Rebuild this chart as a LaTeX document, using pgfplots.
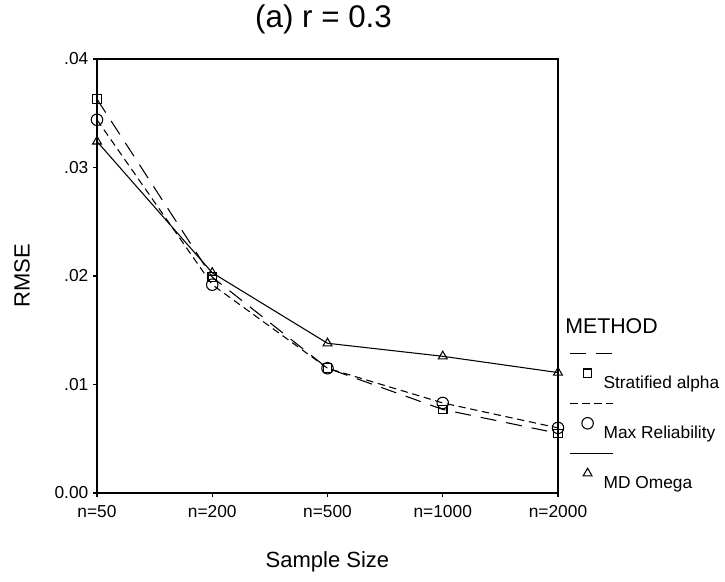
\documentclass[border=0pt]{standalone}
\usepackage{fontspec}
\setmainfont{Liberation Sans}
\usepackage{pgfplots}
\pgfplotsset{compat=1.18}
\begin{document}
\begin{tikzpicture}
\useasboundingbox (-72.75pt,-66.75pt) rectangle (471pt,369.75pt);
\begin{axis}[
  at={(0,0)}, anchor=south west,
  scale only axis, width=345.75pt, height=325.5pt,
  xmin=0, xmax=4, ymin=0, ymax=0.04, clip=false,
  scaled y ticks=false,
  xtick={0,...,4}, xticklabels={n=50,n=200,n=500,n=1000,n=2000},
  ytick={0,0.01,0.02,0.03,0.04}, yticklabels={0.00,.01,.02,.03,.04},
  tick align=outside, xtick pos=left, ytick pos=left, major tick length=3pt,
  axis line style={line width=1.2pt}, every tick/.style={black,line width=1pt},
  tick label style={font=\fontsize{13}{15}\selectfont},
  xticklabel style={yshift=-2.5pt},
  title={(a) r = 0.3},
  title style={font=\fontsize{23.5}{27}\selectfont, at={(axis description cs:0.5,1)}, anchor=center, yshift=24pt, xshift=-3pt},
  xlabel={Sample Size}, ylabel={RMSE},
  every axis x label/.style={at={(axis description cs:0.5,0)}, anchor=center, yshift=-51.75pt, font=\fontsize{16.5}{19}\selectfont},
  every axis y label/.style={at={(axis description cs:-0.1627,0.5)}, anchor=center, rotate=90, font=\fontsize{16.5}{19}\selectfont},
  legend cell align=left,
  legend style={draw=none, fill=none, at={(axis description cs:1,0.311)}, anchor=north west, xshift=9pt,
    inner sep=0pt, row sep=0pt, font=\fontsize{13}{15}\selectfont},
  legend image code/.code={
    \draw[#1,mark=none,overlay] (0pt,22.5pt) -- (32pt,22.5pt);
    \path[draw=none,fill=none] (0pt,-18.75pt) rectangle (23pt,18.75pt);
    \draw[#1,only marks] plot coordinates {(13pt,7.5pt)};
  },
]
\addplot[black, line width=0.8pt, dash pattern=on 12pt off 7.5pt, mark=square, mark size=3.2pt, mark options={solid}]
  coordinates {(0,0.0363)(1,0.0199)(2,0.0115)(3,0.0077)(4,0.0055)};
\addlegendentry{Stratified alpha}
\addplot[black, line width=0.8pt, dash pattern=on 5.5pt off 3.5pt, mark=o, mark size=4.3pt, mark options={solid}]
  coordinates {(0,0.0344)(1,0.0192)(2,0.0115)(3,0.0083)(4,0.0060)};
\addlegendentry{Max Reliability}
\addplot[black, line width=0.8pt, mark=triangle, mark size=3.8pt, mark options={solid}]
  coordinates {(0,0.0324)(1,0.0203)(2,0.0138)(3,0.0126)(4,0.0111)};
\addlegendentry{MD Omega}
\node[anchor=west, font=\fontsize{16}{19}\selectfont, inner sep=0pt, xshift=5.25pt] at (axis description cs:1,0.385) {METHOD};
\end{axis}
\end{tikzpicture}
\end{document}
